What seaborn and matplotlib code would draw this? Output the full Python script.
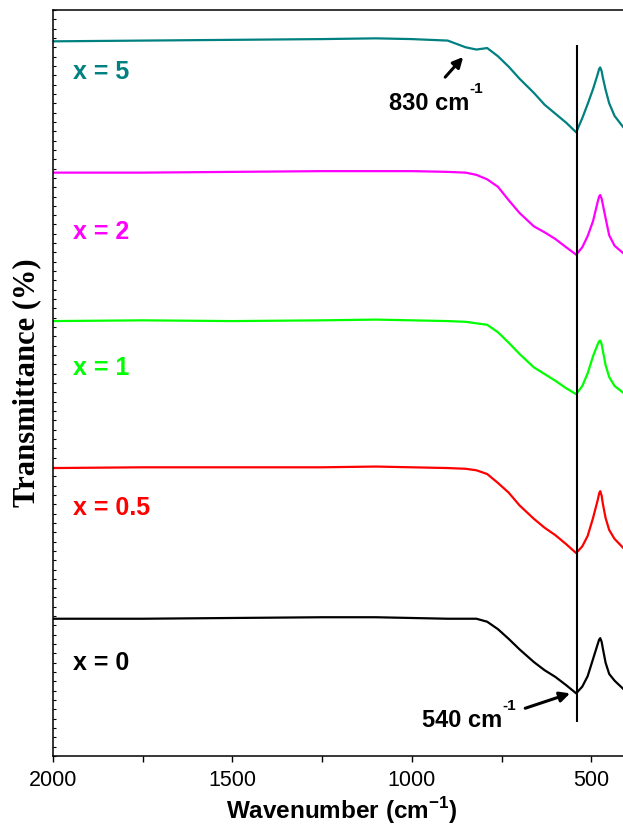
import pandas as pd
import seaborn as sns
import matplotlib.pyplot as plt
from matplotlib.ticker import MultipleLocator, NullLocator, FixedLocator

# Data (offset-stacked transmittance, arbitrary %)
wavenumber = [2000, 1750, 1500, 1250, 1100, 1000, 900, 850, 820, 790, 760, 730, 700,
              660, 630, 600, 570, 542, 525, 510, 495, 482, 478, 475, 471, 468, 460,
              450, 435, 411, 400]

t_x0 = [18.4, 18.4, 18.5, 18.6, 18.6, 18.5, 18.4, 18.4, 18.4, 18.0, 17.0, 15.7, 14.3,
        12.6, 11.5, 10.6, 9.5, 8.4, 9.3, 10.7, 13.0, 15.0, 15.6, 15.8, 15.3, 14.5, 12.5,
        11.0, 10.1, 9.0, 8.5]
t_x05 = [38.6, 38.7, 38.7, 38.7, 38.8, 38.7, 38.6, 38.5, 38.3, 37.8, 36.6, 35.3, 33.6,
         31.8, 30.6, 29.6, 28.4, 27.2, 28.1, 29.5, 31.9, 34.3, 35.2, 35.5, 34.9, 33.9, 31.9,
         30.3, 29.1, 27.9, 27.5]
t_x1 = [58.3, 58.4, 58.3, 58.4, 58.5, 58.4, 58.3, 58.2, 58.0, 57.8, 56.8, 55.4, 53.9,
        52.1, 51.2, 50.3, 49.3, 48.5, 49.6, 51.3, 53.6, 55.2, 55.6, 55.7, 55.2, 54.4, 52.4,
        50.8, 49.6, 48.7, 48.3]
t_x2 = [78.2, 78.2, 78.3, 78.4, 78.4, 78.4, 78.3, 78.2, 77.9, 77.3, 76.3, 74.5, 72.8,
        71.0, 70.2, 69.3, 68.2, 67.2, 68.2, 69.7, 71.7, 74.3, 75.0, 75.2, 74.7, 74.0, 72.1,
        69.8, 68.4, 67.4, 67.0]
t_x5 = [95.8, 95.9, 96.0, 96.1, 96.2, 96.1, 95.9, 95.0, 94.7, 94.9, 93.8, 92.4, 90.8,
        88.9, 87.3, 86.1, 84.9, 83.6, 85.5, 87.4, 89.4, 91.4, 92.1, 92.3, 91.8, 91.0, 89.3,
        87.5, 85.8, 84.3, 83.9]

samples = ['x = 0', 'x = 0.5', 'x = 1', 'x = 2', 'x = 5']
series = [t_x0, t_x05, t_x1, t_x2, t_x5]
colors = ['#000000', '#FF0000', '#00FF00', '#FF00FF', '#008080']
label_y = [12.5, 33.2, 52.0, 70.2, 91.7]

band_main = 541   # 540 cm-1 band

rows = []
for name, vals in zip(samples, series):
    for w, t in zip(wavenumber, vals):
        rows.append({'wavenumber': w, 'transmittance': t, 'sample': name})
df = pd.DataFrame(rows)

sns.set_style('ticks')
plt.rcParams['font.family'] = ['Liberation Sans', 'DejaVu Sans']
plt.rcParams['mathtext.fontset'] = 'custom'
plt.rcParams['mathtext.bf'] = 'Liberation Sans:bold'
plt.rcParams['mathtext.rm'] = 'Liberation Sans'
for k in ['text.color', 'axes.labelcolor', 'xtick.color', 'ytick.color', 'axes.edgecolor']:
    plt.rcParams[k] = 'black'

fig = plt.figure(figsize=(6.23, 8.33), dpi=100)
ax = fig.add_axes([53 / 623, 77 / 833, 577 / 623, 746 / 833])

sns.lineplot(data=df, x='wavenumber', y='transmittance', hue='sample',
             palette=dict(zip(samples, colors)), linewidth=1.6, legend=False,
             estimator=None, ax=ax)

ax.set_xlim(2000, 392)
ax.set_ylim(0, 100)

# marker line at 540 cm-1
ax.vlines(band_main, 4.6, 95.3, color='black', linewidth=1.5)

for name, y, c in zip(samples, label_y, colors):
    ax.text(1944, y, name, color=c, fontsize=18, fontweight='bold', va='center', ha='left')

arrow = dict(arrowstyle='-|>,head_length=0.6,head_width=0.3',
             color='black', lw=2.2, shrinkA=0, shrinkB=0)

ax.annotate('', xy=(857, 93.7), xytext=(907, 91.0), arrowprops=arrow)
ax.text(840, 86.6, '830 cm', fontsize=17, fontweight='bold', ha='right', va='baseline')
ax.text(839, 88.9, '-1', fontsize=11, fontweight='bold', ha='left', va='baseline')

ax.annotate('', xy=(559, 8.4), xytext=(684, 6.4), arrowprops=arrow)
ax.text(748, 3.9, '540 cm', fontsize=17, fontweight='bold', ha='right', va='baseline')
ax.text(747, 6.2, '-1', fontsize=11, fontweight='bold', ha='left', va='baseline')

# axes formatting
ax.xaxis.set_major_locator(FixedLocator([2000, 1500, 1000, 500]))
ax.xaxis.set_minor_locator(MultipleLocator(250))
ax.yaxis.set_major_locator(NullLocator())
ax.yaxis.set_minor_locator(MultipleLocator(1.25))
ax.tick_params(axis='x', which='both', direction='out', length=4, width=1,
               labelsize=15.5, pad=6, top=False)
ax.tick_params(axis='y', which='minor', direction='in', length=2.5, width=0.8,
               left=True, right=False)
for s in ax.spines.values():
    s.set_linewidth(1.1)

ax.set_xlabel(r'Wavenumber (cm$^{\mathbf{-1}}$)', fontsize=17.5, fontweight='bold', labelpad=3)
ax.set_ylabel('Transmittance (%)', fontsize=22, fontweight='bold',
              family=['Liberation Serif', 'DejaVu Serif'], labelpad=5)

fig.savefig('out.png', dpi=100)
